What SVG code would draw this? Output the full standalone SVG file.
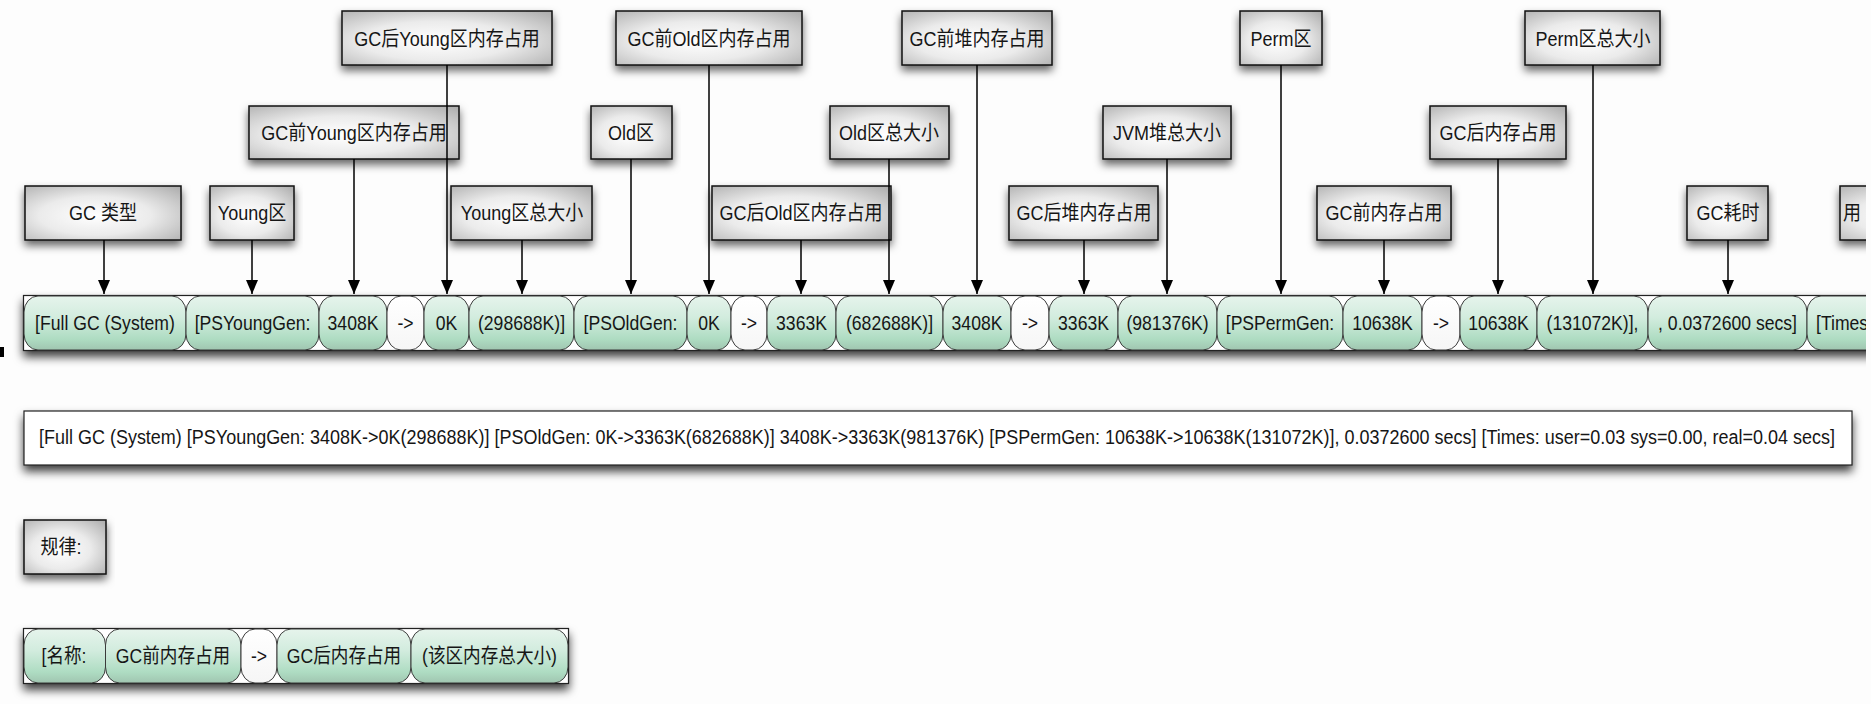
<svg xmlns="http://www.w3.org/2000/svg" width="1871" height="704" viewBox="0 0 1871 704">
<defs>
<style>
.bx{fill:url(#gBox);stroke:#111;stroke-width:1.5;filter:url(#sh)}
.t{font-family:"Liberation Sans","Noto Sans CJK SC",sans-serif;font-size:20px;fill:#161616;text-anchor:middle}
.ts{text-anchor:start}
.pl{fill:url(#gGreen);stroke:#3a3a3a;stroke-width:1}
.pw{fill:url(#gWhite);stroke:#3a3a3a;stroke-width:1}
.frame{fill:#fff;stroke:#222;stroke-width:1.2;filter:url(#sh2)}
.conn line{stroke:#000;stroke-width:1.5;marker-end:url(#arr)}
</style>
<radialGradient id="gBox" cx="0.45" cy="0.55" r="0.8">
<stop offset="0" stop-color="#ffffff"/>
<stop offset="0.45" stop-color="#ebebeb"/>
<stop offset="1" stop-color="#a6a6a6"/>
</radialGradient>
<linearGradient id="gGreen" x1="0" y1="0" x2="0" y2="1">
<stop offset="0" stop-color="#e6f4ec"/>
<stop offset="0.4" stop-color="#d2ecde"/>
<stop offset="0.8" stop-color="#aedcc2"/>
<stop offset="1" stop-color="#a0c5b0"/>
</linearGradient>
<linearGradient id="gWhite" x1="0" y1="0" x2="0" y2="1">
<stop offset="0" stop-color="#ffffff"/>
<stop offset="1" stop-color="#f6f6f6"/>
</linearGradient>
<filter id="sh" x="-10%" y="-20%" width="120%" height="170%">
<feDropShadow dx="0" dy="5" stdDeviation="4" flood-color="#000" flood-opacity="0.6"/>
</filter>
<filter id="sh2" x="-5%" y="-20%" width="110%" height="180%">
<feDropShadow dx="0" dy="6" stdDeviation="5" flood-color="#000" flood-opacity="0.75"/>
</filter>
<marker id="arr" viewBox="0 0 14 12" refX="14" refY="6" markerWidth="14" markerHeight="12" markerUnits="userSpaceOnUse" orient="auto">
<path d="M0,0 L14,6 L0,12 z" fill="#000"/>
</marker>
<clipPath id="clipR"><rect x="0" y="0" width="1866" height="704"/></clipPath>
</defs>
<rect x="0" y="0" width="1871" height="704" fill="#fdfdfd"/>
<rect x="0" y="347" width="4" height="10" fill="#000"/>

<!-- top row labels -->
<g id="n_gcAfterYoung"><rect class="bx" x="342" y="11" width="210" height="54"/><text class="t" transform="translate(447 46) scale(0.9 1)">GC后Young区内存占用</text></g>
<g id="n_gcBeforeOld"><rect class="bx" x="616" y="11" width="186" height="54"/><text class="t" transform="translate(709 46) scale(0.9 1)">GC前Old区内存占用</text></g>
<g id="n_gcBeforeHeap"><rect class="bx" x="902" y="11" width="150" height="54"/><text class="t" transform="translate(977 46) scale(0.9 1)">GC前堆内存占用</text></g>
<g id="n_perm"><rect class="bx" x="1240" y="11" width="82" height="54"/><text class="t" transform="translate(1281 46) scale(0.9 1)">Perm区</text></g>
<g id="n_permTotal"><rect class="bx" x="1525" y="11" width="135" height="54"/><text class="t" transform="translate(1593 46) scale(0.9 1)">Perm区总大小</text></g>

<!-- middle row labels -->
<g id="n_gcBeforeYoung"><rect class="bx" x="249" y="106" width="210" height="53"/><text class="t" transform="translate(354 140) scale(0.9 1)">GC前Young区内存占用</text></g>
<g id="n_old"><rect class="bx" x="591" y="106" width="81" height="53"/><text class="t" transform="translate(631 140) scale(0.9 1)">Old区</text></g>
<g id="n_oldTotal"><rect class="bx" x="830" y="106" width="119" height="53"/><text class="t" transform="translate(889 140) scale(0.9 1)">Old区总大小</text></g>
<g id="n_jvmTotal"><rect class="bx" x="1103" y="106" width="128" height="53"/><text class="t" transform="translate(1167 140) scale(0.9 1)">JVM堆总大小</text></g>
<g id="n_gcAfter"><rect class="bx" x="1430" y="106" width="136" height="53"/><text class="t" transform="translate(1498 140) scale(0.9 1)">GC后内存占用</text></g>

<!-- bottom row labels -->
<g id="n_gcType"><rect class="bx" x="25" y="186" width="156" height="54"/><text class="t" transform="translate(103 220) scale(0.9 1)">GC 类型</text></g>
<g id="n_young"><rect class="bx" x="210" y="186" width="84" height="54"/><text class="t" transform="translate(252 220) scale(0.9 1)">Young区</text></g>
<g id="n_youngTotal"><rect class="bx" x="451" y="186" width="141" height="54"/><text class="t" transform="translate(522 220) scale(0.9 1)">Young区总大小</text></g>
<g id="n_gcAfterOld"><rect class="bx" x="712" y="186" width="179" height="54"/><text class="t" transform="translate(801 220) scale(0.9 1)">GC后Old区内存占用</text></g>
<g id="n_gcAfterHeap"><rect class="bx" x="1009" y="186" width="149" height="54"/><text class="t" transform="translate(1084 220) scale(0.9 1)">GC后堆内存占用</text></g>
<g id="n_gcBefore"><rect class="bx" x="1317" y="186" width="134" height="54"/><text class="t" transform="translate(1384 220) scale(0.9 1)">GC前内存占用</text></g>
<g id="n_gcTime"><rect class="bx" x="1687" y="186" width="81" height="54"/><text class="t" transform="translate(1728 220) scale(0.9 1)">GC耗时</text></g>
<g id="n_user" clip-path="url(#clipR)"><rect class="bx" x="1840" y="186" width="150" height="54"/><text class="t ts" transform="translate(1843 220) scale(0.9 1)">用</text></g>

<!-- GC log segmented row -->
<g id="n_logRow" clip-path="url(#clipR)">
<rect class="frame" x="23.5" y="295.5" width="1960" height="55"/>
<g id="p1"><rect class="pl" x="24" y="296" width="162" height="54" rx="14" ry="16"/><text class="t" transform="translate(105 330) scale(0.88 1)">[Full GC (System)</text></g>
<g id="p2"><rect class="pl" x="186" y="296" width="133" height="54" rx="14" ry="16"/><text class="t" transform="translate(252.5 330) scale(0.88 1)">[PSYoungGen:</text></g>
<g id="p3"><rect class="pl" x="319" y="296" width="68" height="54" rx="14" ry="16"/><text class="t" transform="translate(353 330) scale(0.88 1)">3408K</text></g>
<g id="p4"><rect class="pw" x="387" y="296" width="37" height="54" rx="14" ry="16"/><text class="t" transform="translate(405.5 330) scale(0.88 1)">-&gt;</text></g>
<g id="p5"><rect class="pl" x="424" y="296" width="45" height="54" rx="14" ry="16"/><text class="t" transform="translate(446.5 330) scale(0.88 1)">0K</text></g>
<g id="p6"><rect class="pl" x="469" y="296" width="105" height="54" rx="14" ry="16"/><text class="t" transform="translate(521.5 330) scale(0.88 1)">(298688K)]</text></g>
<g id="p7"><rect class="pl" x="574" y="296" width="113" height="54" rx="14" ry="16"/><text class="t" transform="translate(630.5 330) scale(0.88 1)">[PSOldGen:</text></g>
<g id="p8"><rect class="pl" x="687" y="296" width="44" height="54" rx="14" ry="16"/><text class="t" transform="translate(709 330) scale(0.88 1)">0K</text></g>
<g id="p9"><rect class="pw" x="731" y="296" width="36" height="54" rx="14" ry="16"/><text class="t" transform="translate(749 330) scale(0.88 1)">-&gt;</text></g>
<g id="p10"><rect class="pl" x="767" y="296" width="69" height="54" rx="14" ry="16"/><text class="t" transform="translate(801.5 330) scale(0.88 1)">3363K</text></g>
<g id="p11"><rect class="pl" x="836" y="296" width="107" height="54" rx="14" ry="16"/><text class="t" transform="translate(889.5 330) scale(0.88 1)">(682688K)]</text></g>
<g id="p12"><rect class="pl" x="943" y="296" width="68" height="54" rx="14" ry="16"/><text class="t" transform="translate(977 330) scale(0.88 1)">3408K</text></g>
<g id="p13"><rect class="pw" x="1011" y="296" width="38" height="54" rx="14" ry="16"/><text class="t" transform="translate(1030 330) scale(0.88 1)">-&gt;</text></g>
<g id="p14"><rect class="pl" x="1049" y="296" width="69" height="54" rx="14" ry="16"/><text class="t" transform="translate(1083.5 330) scale(0.88 1)">3363K</text></g>
<g id="p15"><rect class="pl" x="1118" y="296" width="99" height="54" rx="14" ry="16"/><text class="t" transform="translate(1167.5 330) scale(0.88 1)">(981376K)</text></g>
<g id="p16"><rect class="pl" x="1217" y="296" width="126" height="54" rx="14" ry="16"/><text class="t" transform="translate(1280 330) scale(0.88 1)">[PSPermGen:</text></g>
<g id="p17"><rect class="pl" x="1343" y="296" width="79" height="54" rx="14" ry="16"/><text class="t" transform="translate(1382.5 330) scale(0.88 1)">10638K</text></g>
<g id="p18"><rect class="pw" x="1422" y="296" width="38" height="54" rx="14" ry="16"/><text class="t" transform="translate(1441 330) scale(0.88 1)">-&gt;</text></g>
<g id="p19"><rect class="pl" x="1460" y="296" width="77" height="54" rx="14" ry="16"/><text class="t" transform="translate(1498.5 330) scale(0.88 1)">10638K</text></g>
<g id="p20"><rect class="pl" x="1537" y="296" width="111" height="54" rx="14" ry="16"/><text class="t" transform="translate(1592.5 330) scale(0.88 1)">(131072K)],</text></g>
<g id="p21"><rect class="pl" x="1648" y="296" width="159" height="54" rx="14" ry="16"/><text class="t" transform="translate(1727.5 330) scale(0.88 1)">, 0.0372600 secs]</text></g>
<g id="p22"><rect class="pl" x="1807" y="296" width="160" height="54" rx="14" ry="16"/><text class="t ts" transform="translate(1816 330) scale(0.88 1)">[Times</text></g>
</g>

<!-- full log line -->
<g id="n_logLine">
<rect class="frame" x="24" y="411" width="1828" height="54"/>
<text class="t ts" x="39" y="444" font-size="16" textLength="1796" lengthAdjust="spacingAndGlyphs">[Full GC (System) [PSYoungGen: 3408K-&gt;0K(298688K)] [PSOldGen: 0K-&gt;3363K(682688K)] 3408K-&gt;3363K(981376K) [PSPermGen: 10638K-&gt;10638K(131072K)], 0.0372600 secs] [Times: user=0.03 sys=0.00, real=0.04 secs]</text>
</g>

<!-- rule label -->
<g id="n_rule"><rect class="bx" x="24" y="520" width="82" height="54"/><text class="t" transform="translate(61 554) scale(0.9 1)">规律:</text></g>

<!-- rule segmented row -->
<g id="n_ruleRow">
<rect class="frame" x="23.5" y="628.5" width="545" height="55"/>
<g id="r1"><rect class="pl" x="24" y="629" width="81.5" height="54" rx="14" ry="16"/><text class="t" transform="translate(64 663) scale(0.88 1)">[名称:</text></g>
<g id="r2"><rect class="pl" x="105.5" y="629" width="135.5" height="54" rx="14" ry="16"/><text class="t" transform="translate(173 663) scale(0.88 1)">GC前内存占用</text></g>
<g id="r3"><rect class="pw" x="241" y="629" width="36" height="54" rx="14" ry="16"/><text class="t" transform="translate(259 663) scale(0.88 1)">-&gt;</text></g>
<g id="r4"><rect class="pl" x="277" y="629" width="134" height="54" rx="14" ry="16"/><text class="t" transform="translate(344 663) scale(0.88 1)">GC后内存占用</text></g>
<g id="r5"><rect class="pl" x="411" y="629" width="157" height="54" rx="14" ry="16"/><text class="t" transform="translate(489.5 663) scale(0.88 1)">(该区内存总大小)</text></g>
</g>

<!-- connectors -->
<g id="connectors" class="conn">
<line x1="104" y1="240" x2="104" y2="294"/>
<line x1="252" y1="240" x2="252" y2="294"/>
<line x1="354" y1="159" x2="354" y2="294"/>
<line x1="447" y1="65" x2="447" y2="294"/>
<line x1="522" y1="240" x2="522" y2="294"/>
<line x1="631" y1="159" x2="631" y2="294"/>
<line x1="709" y1="65" x2="709" y2="294"/>
<line x1="801" y1="240" x2="801" y2="294"/>
<line x1="889" y1="159" x2="889" y2="294"/>
<line x1="977" y1="65" x2="977" y2="294"/>
<line x1="1084" y1="240" x2="1084" y2="294"/>
<line x1="1167" y1="159" x2="1167" y2="294"/>
<line x1="1281" y1="65" x2="1281" y2="294"/>
<line x1="1384" y1="240" x2="1384" y2="294"/>
<line x1="1498" y1="159" x2="1498" y2="294"/>
<line x1="1593" y1="65" x2="1593" y2="294"/>
<line x1="1728" y1="240" x2="1728" y2="294"/>
</g>
</svg>
